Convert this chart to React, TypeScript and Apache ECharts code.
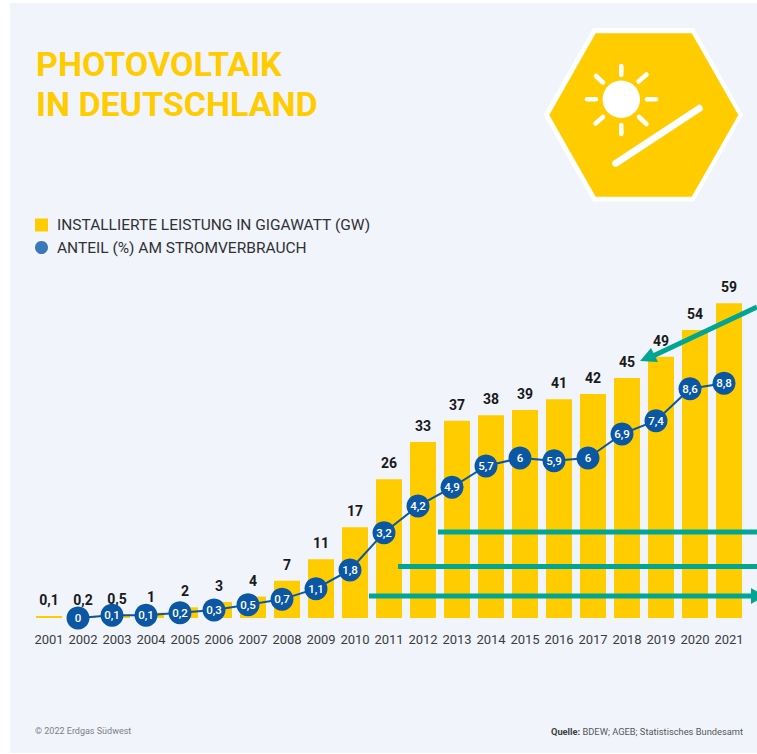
import React, { useEffect, useRef } from "react";
import * as echarts from "echarts";

const years = ["2001","2002","2003","2004","2005","2006","2007","2008","2009","2010","2011","2012","2013","2014","2015","2016","2017","2018","2019","2020","2021"];
const capacityGw = [0.1,0.2,0.5,1,2,3,4,7,11,17,26,33,37,38,39,41,42,45,49,54,59];
const sharePercent = [null,0,0.1,0.1,0.2,0.3,0.5,0.7,1.1,1.8,3.2,4.2,4.9,5.7,6,5.9,6,6.9,7.4,8.6,8.8];
const titleText = "PHOTOVOLTAIK\nIN DEUTSCHLAND";
const capacityName = "INSTALLIERTE LEISTUNG IN GIGAWATT (GW)";
const shareName = "ANTEIL (%) AM STROMVERBRAUCH";

const FONT = "Roboto, sans-serif";
const YELLOW = "#ffcc00";
const TEAL = "#00a594";
const BLUE = "#0b57a4";

const comma = (v: number) => String(v).replace(".", ",");
const whiteStroke = (lineWidth: number) => ({ stroke: "#ffffff", lineWidth, lineCap: "round" });

// Badge in the top right corner: hexagon, sun with rays and a tilted panel.
const badge = () => {
  const seg = (x1: number, y1: number, x2: number, y2: number, w = 4.5) => ({
    type: "line", z: 52, shape: { x1, y1, x2, y2 }, style: whiteStroke(w),
  });
  return [
    {
      type: "polygon", z: 50,
      shape: { points: [[593,28],[694,28],[743,115],[694,201.5],[593,201.5],[543.5,115]] },
      style: { fill: "#ffffff" },
    },
    {
      type: "polygon", z: 51,
      shape: { points: [[595.7,33.3],[691.7,33.3],[738.3,115],[691.7,196.7],[595.7,196.7],[549.3,115]] },
      style: { fill: YELLOW },
    },
    { type: "circle", z: 52, shape: { cx: 621.3, cy: 99.3, r: 18.7 }, style: { fill: "#ffffff" } },
    seg(621.3,66,621.3,75), seg(621.3,125,621.3,134), seg(587,99.3,596,99.3), seg(647,99.3,656,99.3),
    seg(596,76,603,82.5), seg(646.5,74.5,638.5,81.5), seg(595.5,123.5,603,117), seg(646.5,124,639,117),
    seg(615.7,163.3,699.3,108.3, 7),
  ];
};

// Teal arrows laid across the plot.
const arrows = () => {
  const bar = (x1: number, y1: number, x2: number, y2: number) => ({
    type: "line", z: 60, shape: { x1, y1, x2, y2 }, style: { stroke: TEAL, lineWidth: 5 },
  });
  const head = (points: number[][]) => ({ type: "polygon", z: 60, shape: { points }, style: { fill: TEAL } });
  return [
    bar(438,532,757,532),
    bar(398,566.5,757,566.5),
    bar(369,596,755,596),
    head([[751,588],[765,596],[751,604]]),
    bar(757,307,653,356),
    head([[640,361],[651,348],[658,362]]),
  ];
};

const footer = () => [
  {
    type: "text", z: 50, x: 35, y: 731,
    style: { text: "© 2022 Erdgas Südwest", font: `9px ${FONT}`, fill: "#7d8085", textVerticalAlign: "middle" },
  },
  {
    type: "text", z: 50, x: 743, y: 731,
    style: {
      text: "{b|Quelle:} BDEW; AGEB; Statistisches Bundesamt",
      font: `9.3px ${FONT}`, fill: "#55585c", textAlign: "right", textVerticalAlign: "middle",
      rich: { b: { font: `bold 9.3px ${FONT}`, fill: "#3c3f43" } },
    },
  },
];

export default function App() {
  const ref = useRef<HTMLDivElement>(null);
  useEffect(() => {
    const chart = echarts.init(ref.current!, null, { renderer: "svg" });
    chart.setOption({
      animation: false,
      backgroundColor: "transparent",
      textStyle: { fontFamily: FONT },
      title: {
        text: titleText, left: 36, top: 44, padding: 0,
        textStyle: { color: YELLOW, fontFamily: FONT, fontWeight: "bold", fontSize: 34, lineHeight: 40 },
      },
      legend: {
        orient: "vertical", left: 35, top: 217, padding: 0, itemWidth: 13, itemHeight: 13, itemGap: 6.5,
        textStyle: { color: "#2f3236", fontFamily: FONT, fontSize: 15.5, padding: [0, 0, 0, 4] },
        data: [
          { name: capacityName, icon: "rect", itemStyle: { color: YELLOW } },
          { name: shareName, icon: "circle", itemStyle: { color: "#3a78b8" } },
        ],
      },
      // The share line sits on its own grid, shifted slightly left of the bars.
      grid: [
        { left: 32, right: 11, top: 298, bottom: 136 },
        { left: 27, right: 16, top: 298, bottom: 136 },
      ],
      xAxis: [
        {
          type: "category", data: years, gridIndex: 0,
          axisLine: { show: false }, axisTick: { show: false },
          axisLabel: { interval: 0, margin: 15, fontSize: 13, color: "#3a3d40", fontFamily: FONT },
        },
        { type: "category", data: years, gridIndex: 1, show: false, axisLabel: { interval: 0 } },
      ],
      yAxis: [
        { type: "value", gridIndex: 0, min: 0, max: 60, show: false, splitLine: { show: false } },
        { type: "value", gridIndex: 1, min: 0, max: 12, show: false, splitLine: { show: false } },
      ],
      series: [
        {
          name: capacityName, type: "bar", data: capacityGw, barWidth: 26, barMinHeight: 2,
          xAxisIndex: 0, yAxisIndex: 0,
          itemStyle: { color: YELLOW },
          label: {
            show: true, position: "top", distance: 9, color: "#17191c",
            fontFamily: FONT, fontWeight: "bold", fontSize: 14,
            formatter: (p: any) => comma(p.value),
          },
        },
        {
          name: shareName, type: "line", data: sharePercent, xAxisIndex: 1, yAxisIndex: 1, z: 5,
          symbol: "circle", symbolSize: 23, showSymbol: true, showAllSymbol: true,
          lineStyle: { color: BLUE, width: 2 },
          itemStyle: { color: BLUE },
          labelLayout: { hideOverlap: false },
          label: {
            show: true, position: "inside", color: "#ffffff",
            fontFamily: FONT, fontWeight: 500, fontSize: 11.5,
            formatter: (p: any) => comma(p.value),
          },
        },
      ],
      graphic: [...badge(), ...arrows(), ...footer()],
    });
    return () => chart.dispose();
  }, []);
  return (
    <div style={{ position: "absolute", left: 0, top: 0, width: 757, height: 754, background: "#ffffff", overflow: "hidden" }}>
      <div style={{ position: "absolute", left: 10, top: 3, width: 747, height: 750, background: "#f1f4fa" }} />
      <div ref={ref} style={{ position: "absolute", left: 0, top: 0, width: 757, height: 754 }} />
    </div>
  );
}
